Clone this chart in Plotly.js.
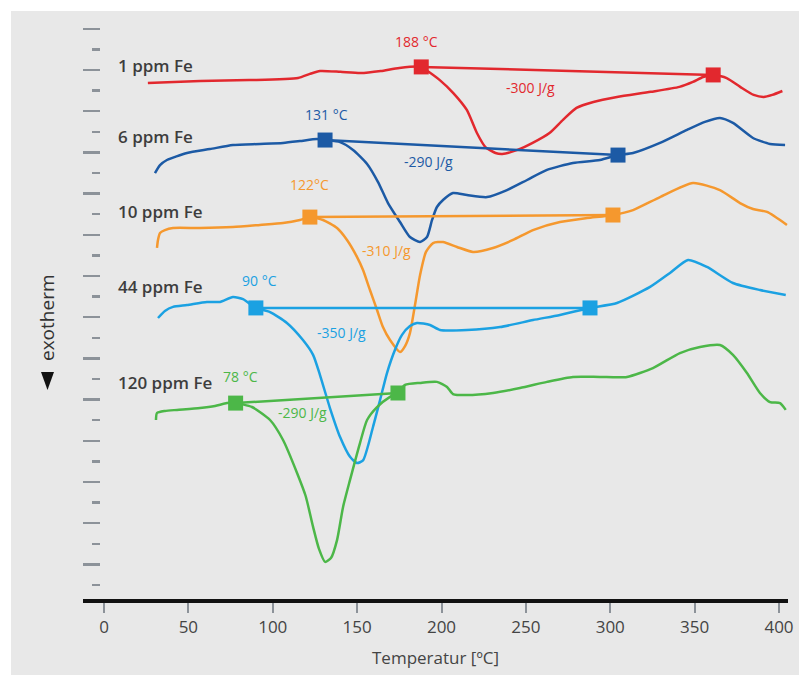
<!DOCTYPE html>
<html>
<head>
<meta charset="utf-8">
<script src="https://cdn.plot.ly/plotly-3.0.1.min.js"></script>
<style>
  html, body { margin: 0; padding: 0; background: #ffffff; }
  #chart { width: 799px; height: 675px; }
</style>
</head>
<body>
<div id="chart"></div>
<script>
// DSC heating curves of samples with increasing Fe content (vertically offset, arbitrary heat-flow units)

// 1 ppm Fe
const fe1T = [26, 57, 86, 115, 122, 128, 140, 152, 164, 175, 188, 190, 199, 207, 215, 221, 226, 232, 236, 245, 254, 264, 272, 280, 290, 304, 324, 341, 349, 355, 361, 369, 377, 385, 391, 396, 402];
const fe1Q = [25.37, 25.47, 25.51, 25.61, 25.81, 25.95, 25.91, 25.85, 25.95, 26.10, 26.15, 26.05, 25.51, 24.88, 24.06, 22.94, 22.26, 21.97, 21.92, 22.12, 22.46, 22.94, 23.58, 24.16, 24.45, 24.69, 24.94, 25.18, 25.42, 25.66, 25.76, 25.61, 25.18, 24.79, 24.69, 24.79, 24.98];

// 6 ppm Fe
const fe6T = [30.2, 33.2, 37.3, 49.2, 62.8, 76.4, 92.4, 106.1, 116.1, 126.2, 131, 139.9, 147.6, 155.9, 162.4, 168.3, 175.4, 181.3, 187.3, 191.4, 194.4, 197.3, 200.9, 206.8, 215.1, 227.0, 238.8, 250.7, 262.5, 277.9, 293.9, 304.6, 313.5, 329.5, 345.5, 356.1, 365.0, 372.7, 384.6, 394.7, 403.6];
const fe6Q = [20.99, 21.38, 21.63, 21.97, 22.16, 22.36, 22.41, 22.46, 22.55, 22.65, 22.60, 22.50, 22.12, 21.44, 20.56, 19.54, 18.62, 17.89, 17.65, 17.89, 18.72, 19.35, 19.69, 20.03, 19.93, 19.83, 20.17, 20.66, 21.15, 21.49, 21.63, 21.87, 21.97, 22.46, 23.09, 23.48, 23.67, 23.43, 22.70, 22.41, 22.36];

// 10 ppm Fe
const fe10T = [31.4, 32.0, 33.2, 36.1, 40.9, 56.9, 76.4, 92.4, 106.1, 116.1, 122, 129.8, 138.1, 144.0, 149.9, 153.5, 157.6, 161.8, 165.3, 169.5, 175.4, 178.4, 181.3, 184.3, 187.3, 190.8, 195.0, 200.9, 209.2, 218.7, 230.5, 242.4, 254.2, 270.2, 286.2, 301.6, 313.5, 329.5, 349.0, 365.0, 376.9, 384.6, 392.9, 404.7];
const fe10Q = [17.36, 17.75, 18.09, 18.23, 18.33, 18.33, 18.38, 18.48, 18.57, 18.72, 18.86, 18.72, 18.33, 17.75, 16.93, 16.29, 15.32, 14.35, 13.52, 12.89, 12.31, 12.60, 13.23, 14.59, 16.05, 17.17, 17.60, 17.65, 17.41, 17.17, 17.36, 17.75, 18.23, 18.62, 18.81, 18.96, 19.20, 19.83, 20.51, 20.17, 19.54, 19.25, 19.11, 18.48];

// 44 ppm Fe
const fe44T = [32.0, 36.1, 40.9, 49.2, 61.0, 68.7, 76.4, 82.4, 86.5, 90, 98.4, 108.4, 117.9, 123.9, 128.0, 133.9, 139.9, 145.8, 149.9, 153.5, 159.4, 163.6, 167.7, 172.4, 176.6, 181.3, 185.5, 193.2, 199.1, 215.1, 234.7, 254.2, 270.2, 288.0, 304.0, 323.6, 335.4, 346.1, 357.3, 372.7, 388.7, 404.0];
const fe44Q = [13.96, 14.30, 14.50, 14.59, 14.74, 14.74, 14.98, 14.88, 14.64, 14.45, 14.25, 13.72, 12.89, 12.17, 11.19, 9.59, 8.18, 7.22, 6.92, 7.05, 8.67, 9.98, 11.29, 12.41, 13.14, 13.57, 13.72, 13.62, 13.38, 13.38, 13.52, 13.86, 14.11, 14.45, 14.69, 15.47, 16.15, 16.78, 16.44, 15.66, 15.32, 15.08];

// 120 ppm Fe
const fe120T = [30.8, 31.4, 36.1, 43.3, 56.9, 65.8, 72.9, 78, 87.7, 98.4, 106.1, 114.4, 119.5, 123.9, 127.4, 131.0, 134.5, 138.1, 141.7, 145.8, 151.7, 155.9, 161.8, 169.5, 174.2, 178.4, 187.3, 197.3, 203.3, 206.8, 215.1, 230.5, 246.5, 262.5, 277.9, 293.9, 309.9, 325.3, 341.3, 353.2, 365.0, 372.7, 381.0, 388.7, 394.7, 400.6, 404.0];
const fe120Q = [9.01, 9.35, 9.45, 9.50, 9.59, 9.69, 9.83, 9.83, 9.64, 9.01, 8.04, 6.44, 5.32, 3.82, 2.75, 2.12, 2.31, 3.18, 4.80, 6.10, 7.89, 9.01, 9.64, 10.13, 10.32, 10.71, 10.81, 10.86, 10.61, 10.27, 10.22, 10.32, 10.56, 10.86, 11.10, 11.10, 11.10, 11.53, 12.26, 12.55, 12.65, 12.17, 11.29, 10.32, 9.88, 9.83, 9.50];

// Integration baselines: onset temperature and end of the melting peak
const onsetT = [188, 131, 122, 90, 78];
const onsetQ = [26.15, 22.60, 18.86, 14.45, 9.83];
const endT = [361, 304.6, 301.6, 288, 174.2];
const endQ = [25.76, 21.87, 18.96, 14.45, 10.32];

const sampleNames = ['1 ppm Fe', '6 ppm Fe', '10 ppm Fe', '44 ppm Fe', '120 ppm Fe'];
const onsetLabels = ['188 °C', '131 °C', '122°C', '90 °C', '78 °C'];
const enthalpyLabels = ['-300 J/g', '-290 J/g', '-310 J/g', '-350 J/g', '-290 J/g'];
const xTicks = [0, 50, 100, 150, 200, 250, 300, 350, 400];

const colors = ['#e2282e', '#1c5aa5', '#f5982e', '#1ba1e2', '#4cb748'];
const curves = [[fe1T, fe1Q], [fe6T, fe6Q], [fe10T, fe10Q], [fe44T, fe44Q], [fe120T, fe120Q]];

// Page geometry (pixels)
const W = 799, H = 675, ML = 83, MR = 11, MT = 15, MB = 76;
const plotW = W - ML - MR, plotH = H - MT - MB;
const px = p => (p - ML) / plotW;
const py = p => (H - MB - p) / plotH;

const FONT = '"Open Sans", "DejaVu Sans", sans-serif';
const TEXT_GREY = '#444444';
const TICK_GREY = '#8c9299';

const traces = [];
curves.forEach(([t, q], i) => {
  traces.push({
    x: t, y: q, type: 'scatter', mode: 'lines',
    line: { color: colors[i], width: 2.5, shape: 'spline', smoothing: 0.6 },
    hoverinfo: 'skip', showlegend: false
  });
  traces.push({
    x: [onsetT[i], endT[i]], y: [onsetQ[i], endQ[i]], type: 'scatter', mode: 'lines+markers',
    line: { color: colors[i], width: 2.5 },
    marker: { symbol: 'square', size: 15, color: colors[i] },
    hoverinfo: 'skip', showlegend: false
  });
});

// Text placement for each sample: name label, onset label, enthalpy label
const nameY = [26.24, 22.75, 19.11, 15.47, 10.85];
const onsetPos = [[184.9, 27.36], [131.6, 23.82], [122, 20.42], [92, 15.80], [81, 11.10]];
const enthalpyPos = [[253, 25.17], [192, 21.58], [167.7, 17.26], [141, 13.28], [117.5, 9.35]];

const annotations = [];
sampleNames.forEach((name, i) => {
  annotations.push({
    x: 7.1, y: nameY[i], xref: 'x', yref: 'y', text: name, showarrow: false,
    xanchor: 'left', yanchor: 'middle',
    font: { family: FONT, size: 17, color: '#3d3d3d', weight: 600 }
  });
  annotations.push({
    x: onsetPos[i][0], y: onsetPos[i][1], xref: 'x', yref: 'y', text: onsetLabels[i], showarrow: false,
    xanchor: 'center', yanchor: 'middle',
    font: { family: FONT, size: 14, color: colors[i] }
  });
  annotations.push({
    x: enthalpyPos[i][0], y: enthalpyPos[i][1], xref: 'x', yref: 'y', text: enthalpyLabels[i], showarrow: false,
    xanchor: 'center', yanchor: 'middle',
    font: { family: FONT, size: 14, color: colors[i] }
  });
});

// Vertical axis caption
annotations.push({
  x: px(47), y: py(318), xref: 'paper', yref: 'paper', text: 'exotherm', showarrow: false,
  textangle: -90, xanchor: 'center', yanchor: 'middle',
  font: { family: FONT, size: 19, color: '#333333' }
});

const layout = {
  width: W, height: H,
  margin: { l: ML, r: MR, t: MT, b: MB, pad: 0 },
  paper_bgcolor: '#ffffff',
  plot_bgcolor: 'rgba(0,0,0,0)',
  showlegend: false,
  shapes: [
    {
      type: 'rect', xref: 'paper', yref: 'paper', layer: 'below',
      x0: px(11), x1: px(799), y0: py(675), y1: py(11),
      fillcolor: '#e8e8e8', line: { width: 0 }
    },
    {
      // downward arrow head of the exotherm caption
      type: 'path', xref: 'paper', yref: 'paper', layer: 'above',
      path: `M ${px(41)},${py(372)} L ${px(54)},${py(372)} L ${px(47.5)},${py(390)} Z`,
      fillcolor: '#111111', line: { width: 0 }
    }
  ],
  xaxis: {
    range: [-12.44, 405.33],
    tickvals: xTicks, ticktext: xTicks.map(String),
    ticks: 'outside', ticklen: 10, tickwidth: 2, tickcolor: TICK_GREY,
    showline: true, linecolor: '#111111', linewidth: 4,
    showgrid: false, zeroline: false,
    tickfont: { family: FONT, size: 17, color: TEXT_GREY },
    title: { text: 'Temperatur [ºC]', font: { family: FONT, size: 17, color: TEXT_GREY }, standoff: 16 }
  },
  yaxis: {
    anchor: 'free', position: 17 / plotW,
    range: [0.32, 28.67],
    showline: false, showgrid: false, zeroline: false, showticklabels: false,
    ticks: 'outside', tick0: 0, dtick: 2, ticklen: 17, tickwidth: 2.5, tickcolor: TICK_GREY,
    minor: { tick0: 0, dtick: 1, ticks: 'outside', ticklen: 8, tickwidth: 2.5, tickcolor: TICK_GREY, showgrid: false }
  },
  annotations: annotations
};

Plotly.newPlot('chart', traces, layout, { displayModeBar: false, staticPlot: true });
</script>
</body>
</html>
